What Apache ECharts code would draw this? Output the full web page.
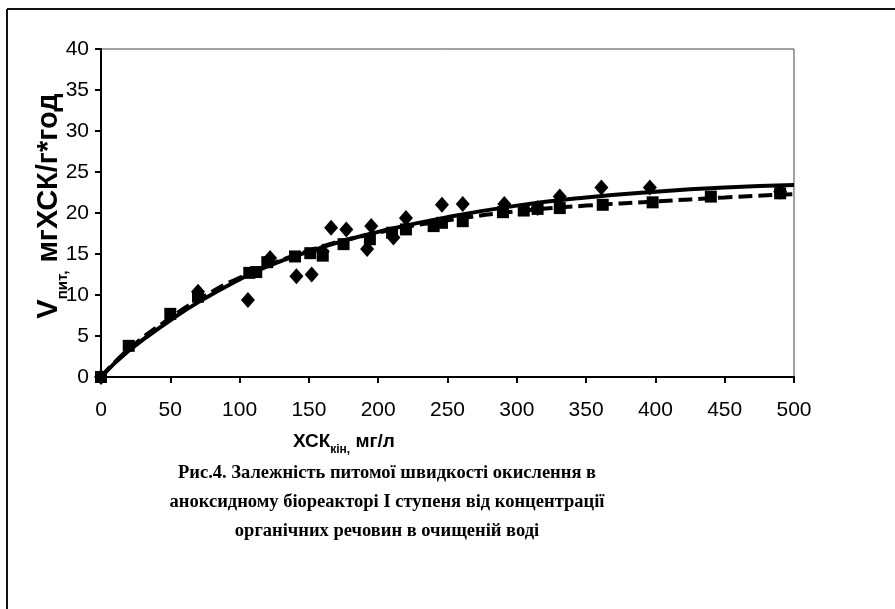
<!DOCTYPE html>
<html>
<head>
<meta charset="utf-8">
<script src="https://cdn.jsdelivr.net/npm/echarts@6/dist/echarts.min.js"></script>
<style>
  html, body { margin: 0; padding: 0; background: #fff; }
  #chart { width: 895px; height: 609px; }
</style>
</head>
<body>
<div id="chart"></div>
<script>
// експериментальні точки (ХСК кін, V пит)
const diamondPts = [
  [0, 0], [70, 10.4], [106, 9.4], [122, 14.5], [141, 12.3], [152, 12.5],
  [160, 15.3], [166, 18.2], [177, 18], [192, 15.6], [195, 18.4],
  [211, 17], [220, 19.4], [246, 21], [261, 21.1], [291, 21.1],
  [315, 20.6], [331, 22], [361, 23.1], [396, 23.1], [490, 22.6]
];
const squarePts = [
  [0, 0], [20, 3.8], [50, 7.7], [70, 9.8], [107, 12.7], [112, 12.8],
  [120, 14], [140, 14.7], [151, 15.1], [160, 14.8], [175, 16.2],
  [194, 16.8], [210, 17.6], [220, 18], [240, 18.4], [246, 18.8],
  [261, 19], [290, 20.1], [305, 20.3], [315, 20.5], [331, 20.6],
  [362, 21], [398, 21.3], [440, 22], [490, 22.4]
];
// апроксимуючі криві
const solidCurve = [
  [0, 0], [20, 3.2], [50, 6.9], [70, 9.1], [100, 11.9], [120, 13.5],
  [150, 15.3], [175, 16.6], [200, 17.7], [250, 19.5], [300, 20.9],
  [350, 21.9], [400, 22.6], [450, 23.1], [500, 23.4]
];
const dashedCurve = [
  [0, 0], [20, 3.4], [50, 7.2], [70, 9.4], [100, 12.1], [150, 15.4],
  [200, 17.6], [250, 19.1], [300, 20.2], [350, 20.9], [400, 21.4],
  [450, 21.9], [500, 22.3]
];
const xTicks = [0, 500, 50];
const yTicks = [0, 40, 5];

const chart = echarts.init(document.getElementById('chart'));

const option = {
  backgroundColor: '#fff',
  animation: false,
  title: [
    {
      text: '{a|ХСК}{s|кін,}{a| мг/л}',
      left: 288,
      top: 427,
      textStyle: {
        rich: {
          a: { fontFamily: 'Liberation Sans', fontWeight: 'bold', fontSize: 19, color: '#000', padding: [0, 0, 5, 0], verticalAlign: 'bottom' },
          s: { fontFamily: 'Liberation Sans', fontWeight: 'bold', fontSize: 12, color: '#000', verticalAlign: 'bottom' }
        }
      }
    },
    {
      text: 'Рис.4. Залежність питомої швидкості окислення в\nаноксидному біореакторі І ступеня від концентрації\nорганічних речовин в очищеній воді',
      left: 382,
      top: 454,
      textAlign: 'center',
      textStyle: {
        fontFamily: 'Liberation Serif',
        fontWeight: 'bold',
        fontSize: 18.5,
        lineHeight: 29,
        color: '#000'
      }
    }
  ],
  grid: {
    left: 101,
    right: 101,
    top: 49,
    bottom: 232,
    show: true,
    borderColor: '#444',
    borderWidth: 1
  },
  xAxis: {
    type: 'value',
    min: xTicks[0],
    max: xTicks[1],
    interval: xTicks[2],
    axisLine: { show: true, lineStyle: { color: '#000', width: 2 } },
    axisTick: { show: true, length: 6, lineStyle: { color: '#000', width: 2 } },
    axisLabel: { margin: 23, fontFamily: 'Liberation Sans', fontSize: 21, color: '#000' },
    splitLine: { show: false }
  },
  yAxis: {
    type: 'value',
    min: yTicks[0],
    max: yTicks[1],
    interval: yTicks[2],
    name: '{a|V}{s|пит,}{a| мгХСК/г*год}',
    nameLocation: 'middle',
    nameGap: 31,
    nameMoveOverlap: false,
    nameTextStyle: {
      padding: [0, 0, 0, 14],
      rich: {
        a: { fontFamily: 'Liberation Sans', fontWeight: 'bold', fontSize: 29, color: '#000', padding: [0, 0, 7, 0], verticalAlign: 'bottom' },
        s: { fontFamily: 'Liberation Sans', fontWeight: 'bold', fontSize: 15, color: '#000', verticalAlign: 'bottom' }
      }
    },
    axisLine: { show: true, lineStyle: { color: '#000', width: 2 } },
    axisTick: { show: true, length: 6, lineStyle: { color: '#000', width: 2 } },
    axisLabel: { margin: 12, fontFamily: 'Liberation Sans', fontSize: 21, color: '#000' },
    splitLine: { show: false },
    z: 1
  },
  graphic: [
    { type: 'line', shape: { x1: 7, y1: 9, x2: 895, y2: 9 }, style: { stroke: '#111', lineWidth: 2 } },
    { type: 'line', shape: { x1: 7, y1: 9, x2: 7, y2: 609 }, style: { stroke: '#111', lineWidth: 2 } }
  ],
  series: [
    {
      type: 'line',
      data: solidCurve,
      smooth: true,
      showSymbol: false,
      lineStyle: { color: '#000', width: 4 },
      z: 3
    },
    {
      type: 'line',
      data: dashedCurve,
      smooth: true,
      showSymbol: false,
      lineStyle: { color: '#000', width: 4, type: [14, 6] },
      z: 3
    },
    {
      type: 'scatter',
      data: squarePts,
      symbol: 'rect',
      symbolSize: 12,
      itemStyle: { color: '#000', opacity: 1 },
      z: 4
    },
    {
      type: 'scatter',
      data: diamondPts,
      symbol: 'diamond',
      symbolSize: [14, 16],
      itemStyle: { color: '#000', opacity: 1 },
      z: 5
    }
  ]
};

chart.setOption(option);
</script>
</body>
</html>
